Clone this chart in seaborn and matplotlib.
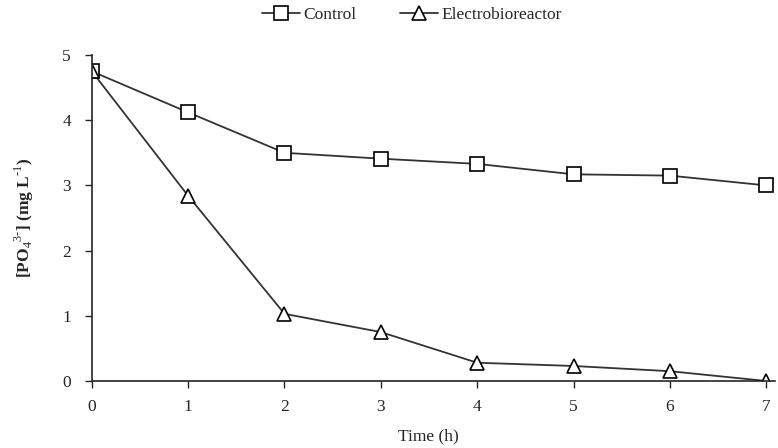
import matplotlib
matplotlib.use("Agg")
import matplotlib.pyplot as plt
import seaborn as sns
import pandas as pd

time_h = [0, 1, 2, 3, 4, 5, 6, 7]
control = [4.75, 4.12, 3.50, 3.41, 3.33, 3.17, 3.15, 3.00]
electrobioreactor = [4.75, 2.84, 1.03, 0.75, 0.28, 0.23, 0.15, 0.00]
series_names = ["Control", "Electrobioreactor"]

df = pd.DataFrame({
    "Time": time_h * 2,
    "PO4": control + electrobioreactor,
    "Series": [series_names[0]] * len(time_h) + [series_names[1]] * len(time_h),
})

sns.set_style("ticks")
plt.rcParams["font.family"] = ["Liberation Serif", "DejaVu Serif"]
plt.rcParams["mathtext.fontset"] = "custom"
plt.rcParams["mathtext.rm"] = "Liberation Serif"
plt.rcParams["mathtext.bf"] = "Liberation Serif:bold"

fig = plt.figure(figsize=(7.78, 4.48), dpi=100)
ax = fig.add_axes([0.118, 0.1496, 0.878, 0.7276])

sns.lineplot(
    data=df, x="Time", y="PO4", hue="Series", style="Series",
    markers={"Control": "s", "Electrobioreactor": "^"}, dashes=False,
    palette={"Control": "#333333", "Electrobioreactor": "#333333"},
    markersize=9.5, markerfacecolor="white", markeredgecolor="black",
    markeredgewidth=1.2, linewidth=1.3, ax=ax,
)

ax.set_xlim(0, 7.09)
ax.set_ylim(0, 5)
ax.set_xticks(range(0, 8))
ax.set_yticks(range(0, 6))
ax.tick_params(axis="both", direction="out", length=5, width=1, labelsize=12.5)
ax.tick_params(axis="x", pad=8)
ax.tick_params(axis="y", pad=10)
for s in ["top", "right"]:
    ax.spines[s].set_visible(False)
for s in ["left", "bottom"]:
    ax.spines[s].set_linewidth(1.2)

ax.set_xlabel("Time (h)", fontsize=12.5)
ax.xaxis.set_label_coords(0.493, -0.145)
ax.set_ylabel(r"[PO$_4$$^{3\text{-}}$] (mg L$^{\text{-}1}$)", fontsize=12.5, fontweight="bold")
ax.yaxis.set_label_coords(-0.082, 0.5)

leg = ax.legend(loc="center", bbox_to_anchor=(0.469, 1.123), ncol=2, frameon=False,
                fontsize=12.5, handlelength=2.2, columnspacing=2.5, handletextpad=0.2,
                borderpad=0)
for h in leg.legend_handles:
    h.set_markerfacecolor("white")
    h.set_markeredgecolor("black")

fig.savefig("out.png", dpi=100)
